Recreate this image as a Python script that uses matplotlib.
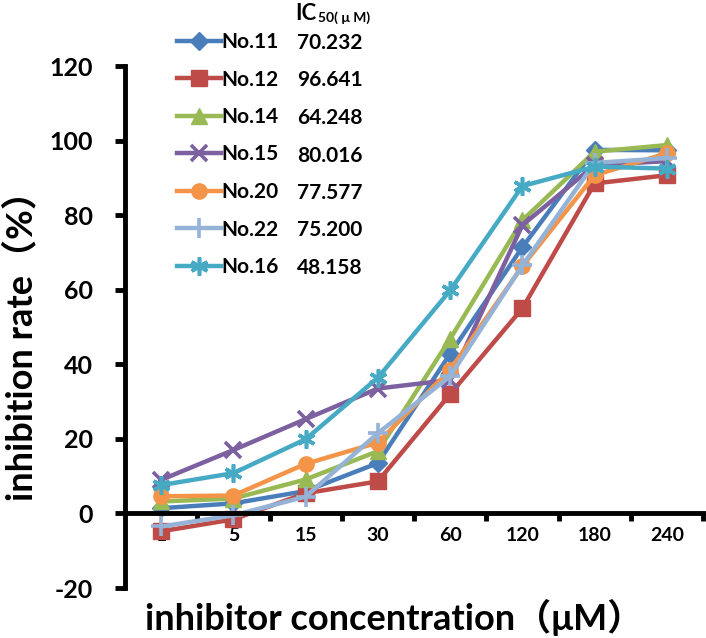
import numpy as np
import matplotlib
matplotlib.use("Agg")
import matplotlib.pyplot as plt
from matplotlib.ticker import FixedLocator, NullFormatter

plt.rcParams['font.family'] = ['Lato', 'Noto Sans CJK SC', 'DejaVu Sans']
plt.rcParams['axes.unicode_minus'] = False

# --- Data ---
concentrations = ['1', '5', '15', '30', '60', '120', '180', '240']
compounds = ['No.11', 'No.12', 'No.14', 'No.15', 'No.20', 'No.22', 'No.16']
ic50 = ['70.232', '96.641', '64.248', '80.016', '77.577', '75.200', '48.158']

no11 = [1.4, 2.7, 6.0, 13.5, 42.8, 71.4, 97.5, 97.4]
no12 = [-4.8, -1.6, 5.4, 8.6, 32.0, 55.0, 88.5, 90.7]
no14 = [3.2, 4.0, 9.1, 16.7, 46.8, 78.6, 97.0, 98.8]
no15 = [9.0, 17.0, 25.3, 33.5, 35.8, 77.3, 93.4, 94.5]
no20 = [4.6, 4.8, 13.3, 19.0, 38.5, 66.3, 90.7, 96.6]
no22 = [-3.5, -0.5, 4.5, 21.5, 36.8, 66.5, 94.0, 95.3]
no16 = [7.6, 10.8, 19.9, 36.4, 59.8, 87.8, 93.0, 92.5]
series = [no11, no12, no14, no15, no20, no22, no16]

colors = ['#4A7EBB', '#BE4B48', '#98B954', '#7D60A0', '#F39448', '#95B3D7', '#46AAC5']
markers = ['D', 's', '^', 'x', 'o', '+', (6, 2, 0)]
msizes = [9, 12, 11, 11, 11, 14, 13]

W, H = 706, 638
fig = plt.figure(figsize=(W / 100, H / 100), dpi=100)
ax = fig.add_axes([125 / W, 1 - 588 / H, 578 / W, 522 / H])

x = np.arange(len(concentrations))
lines = []
for vals, c, m, ms in zip(series, colors, markers, msizes):
    thin = m in ('x', '+') or isinstance(m, tuple)
    ln, = ax.plot(x, vals, color=c, lw=3.2, marker=m, markersize=ms,
                  markeredgewidth=2.6 if thin else 1,
                  markeredgecolor=c, markerfacecolor=c, solid_joinstyle='round')
    lines.append(ln)

ax.set_xlim(-0.5, len(concentrations) - 0.5)
ax.set_ylim(-20, 120)

for s in ['top', 'right']:
    ax.spines[s].set_visible(False)
ax.spines['bottom'].set_position(('data', 0))
ax.spines['left'].set_linewidth(3.5)
ax.spines['bottom'].set_linewidth(3.5)

# y ticks
ax.set_yticks(np.arange(-20, 121, 20))
ax.tick_params(axis='y', direction='out', length=7, width=3.5, labelsize=18, pad=16)
for t in ax.get_yticklabels():
    t.set_fontweight('bold')

# x ticks: marks on category boundaries, labels centred
ax.xaxis.set_major_locator(FixedLocator(np.arange(0.5, len(concentrations), 1.0)))
ax.xaxis.set_major_formatter(NullFormatter())
ax.xaxis.set_minor_locator(FixedLocator(x))
ax.set_xticklabels(concentrations, minor=True)
ax.tick_params(axis='x', which='major', direction='out', length=6, width=3.5)
ax.tick_params(axis='x', which='minor', length=0, labelsize=14, pad=10)
for t in ax.get_xticklabels(minor=True):
    t.set_fontweight('bold')

fig.text(32 / W, 1 - 337 / H, 'inhibition rate（%）', fontsize=26, fontweight='bold',
         rotation=90, rotation_mode='anchor', ha='center', va='baseline')
fig.text(394 / W, 1 - 630 / H, 'inhibitor concentration（μM）', fontsize=26,
         fontweight='bold', ha='center', va='baseline')

# legend with IC50 values
leg = fig.legend(lines, compounds, loc='upper left',
                 bbox_to_anchor=(177 / W, 1 - 32 / H), bbox_transform=fig.transFigure,
                 frameon=False, handlelength=2.1, handletextpad=0.05, borderpad=0,
                 borderaxespad=0, labelspacing=0.84, prop={'size': 15, 'weight': 'bold'})
for i, v in enumerate(ic50):
    fig.text(297 / W, 1 - (43 + 37.5 * i) / H, v, fontsize=15, fontweight='bold',
             ha='left', va='center')
fig.text(295 / W, 1 - 13 / H, 'IC', fontsize=16, fontweight='bold', ha='left', va='center')
fig.text(318 / W, 1 - 18 / H, '50( μ M)', fontsize=10, fontweight='bold',
         ha='left', va='center')

fig.savefig('out.png', dpi=100)
